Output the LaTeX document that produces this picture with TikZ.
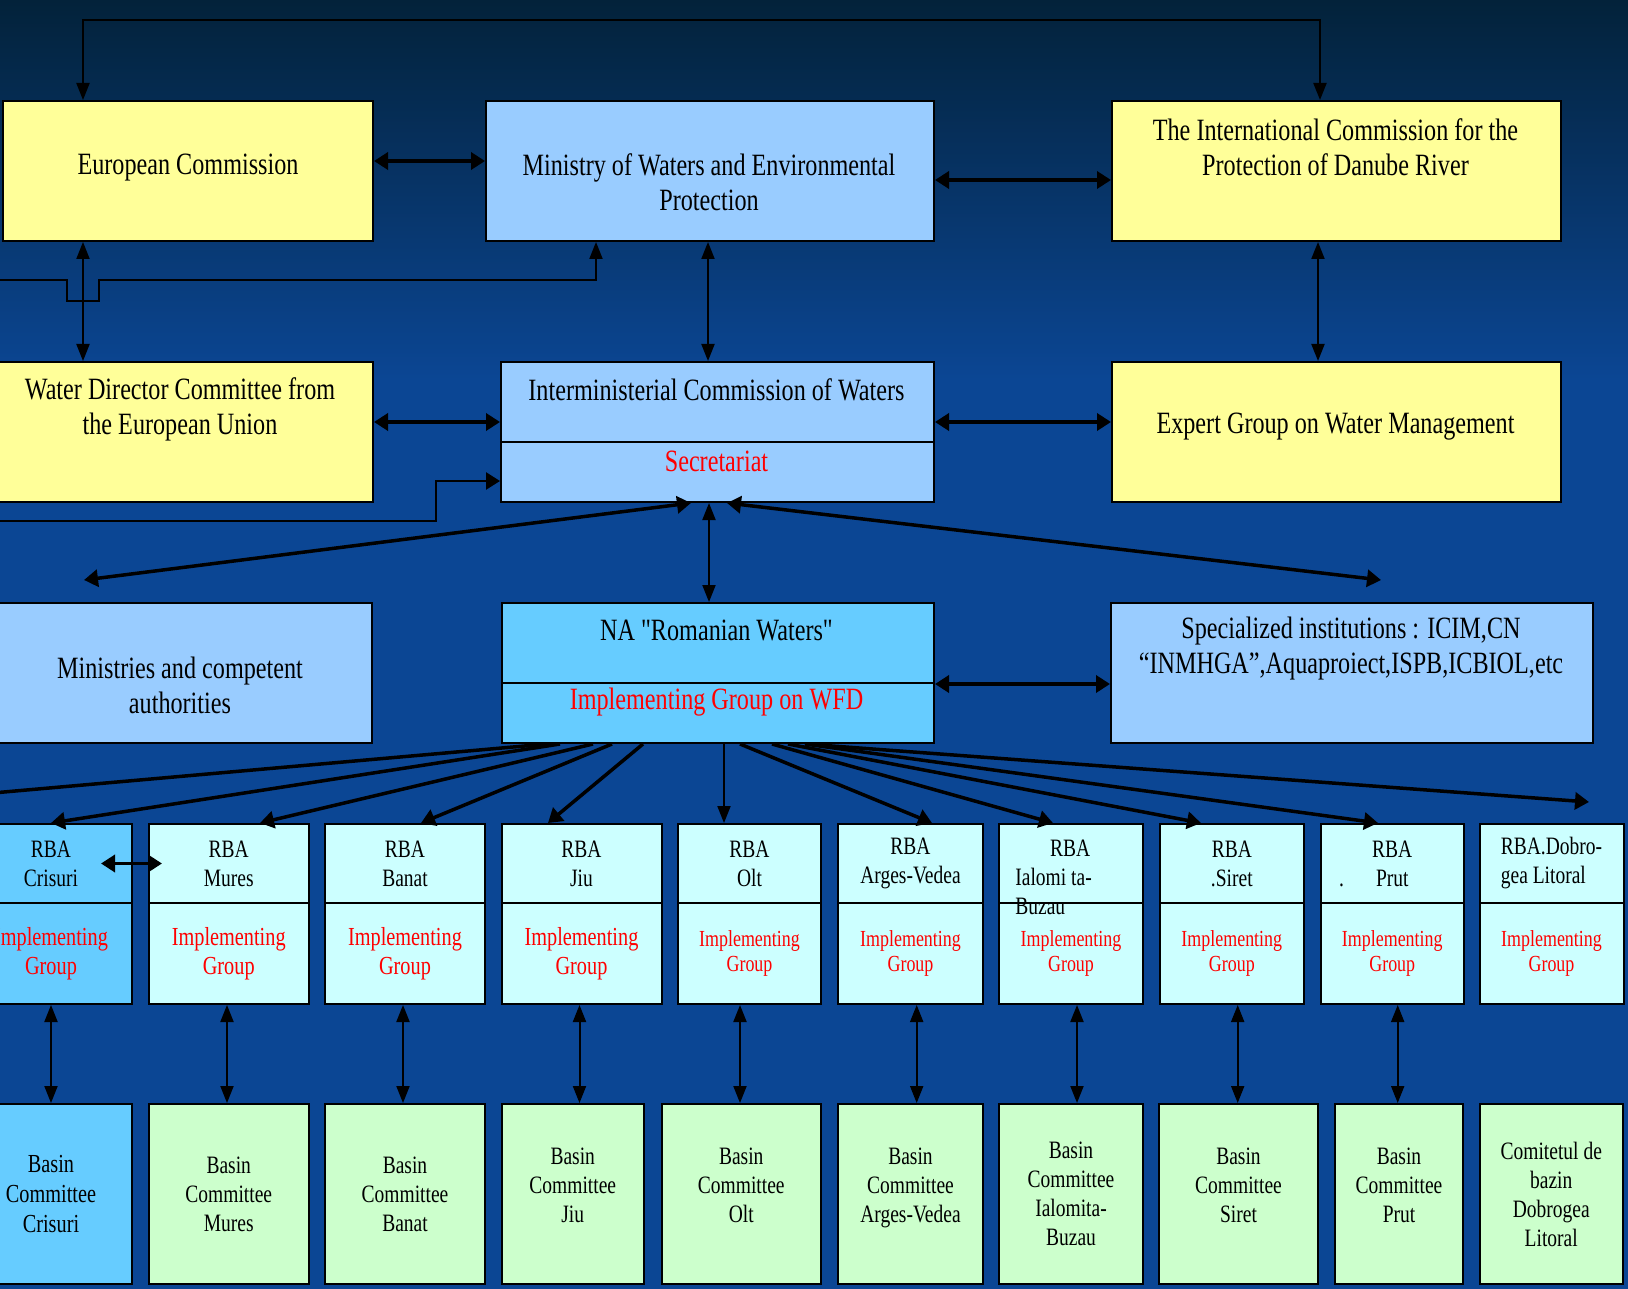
\documentclass[tikz,border=0pt]{standalone}
\usepackage{fontspec}
\setmainfont{Liberation Serif}[FakeStretch=0.78,Ligatures=TeXOff]
\usetikzlibrary{arrows.meta}

\definecolor{bgtop}{RGB}{3,34,58}
\definecolor{bgmid}{RGB}{6,52,104}
\definecolor{bgblue}{RGB}{11,70,148}
\definecolor{ecyellow}{RGB}{255,255,153}
\definecolor{minblue}{RGB}{153,204,255}
\definecolor{nablue}{RGB}{102,204,255}
\definecolor{rbacyan}{RGB}{204,255,255}
\definecolor{bcgreen}{RGB}{204,255,204}

\tikzset{every picture/.style={line width=0.75pt},
  orgbox/.style={draw=black, line width=2pt, anchor=north west, inner sep=0pt, align=center},
  boxtext/.style={align=center, inner sep=0pt, font=\fontsize{31}{35}\selectfont},
  rbabox/.style={orgbox, fill=rbacyan, minimum height=79, font=\fontsize{25}{29}\selectfont},
  igbox/.style={orgbox, fill=rbacyan, minimum height=101, text=red, font=\fontsize{23}{25}\selectfont},
  bcbox/.style={orgbox, fill=bcgreen, minimum height=180, font=\fontsize{25}{29}\selectfont},
  thinarr/.style={line width=2pt, >={Triangle[length=17pt,width=13pt]}},
  thickarr/.style={line width=3.5pt, >={Triangle[length=14pt,width=17pt]}}
}

\begin{document}
\begin{tikzpicture}[x=1pt,y=1pt,yscale=-1,xscale=1]
\useasboundingbox (0,0) rectangle (1628,1289);

%Background
\fill[bgblue] (0,0) rectangle (1628,1289);
\shade[top color=bgtop, middle color=bgmid, bottom color=bgblue] (0,0) rectangle (1628,380);

%Shape: Rectangle [European Commission]
\node[orgbox, fill=ecyellow, minimum width=370, minimum height=140] (ec) at (2,100) {};
\node[boxtext] (ectxt) at (188,168) {European Commission};
%Shape: Rectangle [Ministry]
\node[orgbox, fill=minblue, minimum width=448, minimum height=140] (min) at (485,100) {};
\node[boxtext] (mintxt) at (709,182) {Ministry of Waters and Environmental\\Protection};
%Shape: Rectangle [ICPDR]
\node[orgbox, fill=ecyellow, minimum width=449, minimum height=140] (icpdr) at (1111,100) {};
\node[boxtext] (icpdrtxt) at (1335.5,147) {The International Commission for the\\Protection of Danube River};

%Shape: Rectangle [Water Director Committee]
\node[orgbox, fill=ecyellow, minimum width=384, minimum height=140] (wdc) at (-12,361) {};
\node[boxtext] (wdctxt) at (180,409) {Water Director Committee from\\the European Union};
%Shape: Rectangle [Interministerial Commission]
\node[orgbox, fill=minblue, minimum width=433, minimum height=80] (icw) at (500,361) {};
\node[orgbox, fill=minblue, minimum width=433, minimum height=60] (icwsec) at (500,441) {};
\node[boxtext] (icwtxt) at (716.5,390) {Interministerial Commission of Waters};
\node[boxtext, text=red] (sectxt) at (716.5,461) {Secretariat};
%Shape: Rectangle [Expert Group]
\node[orgbox, fill=ecyellow, minimum width=449, minimum height=140] (exp) at (1111,361) {};
\node[boxtext] (exptxt) at (1335.5,427) {Expert Group on Water Management};

%Shape: Rectangle [Ministries]
\node[orgbox, fill=minblue, minimum width=382, minimum height=140] (mca) at (-11,602) {};
\node[boxtext] (mcatxt) at (180,685) {Ministries and competent\\authorities};
%Shape: Rectangle [NA Romanian Waters]
\node[orgbox, fill=nablue, minimum width=432, minimum height=80] (na) at (501,602) {};
\node[orgbox, fill=nablue, minimum width=432, minimum height=60] (naig) at (501,682) {};
\node[boxtext] (natxt) at (716.5,630) {NA "Romanian Waters"};
\node[boxtext, text=red] (naigtxt) at (716.5,702) {Implementing Group on WFD};
%Shape: Rectangle [Specialized institutions]
\node[orgbox, fill=minblue, minimum width=482, minimum height=140] (spec) at (1110,602) {};
\node[boxtext] (spectxt) at (1351,649) {Specialized institutions : ICIM,CN\\“INMHGA”,Aquaproiect,ISPB,ICBIOL,etc};

%Shape: Rectangle [RBA implementing groups]
\node[igbox, fill=nablue, minimum width=162, font=\fontsize{26}{29}\selectfont] (ig1) at (-31,902) {Implementing\\Group};
\node[igbox, minimum width=159.5, font=\fontsize{26}{29}\selectfont] (ig2) at (148,902) {Implementing\\Group};
\node[igbox, minimum width=160, font=\fontsize{26}{29}\selectfont] (ig3) at (324,902) {Implementing\\Group};
\node[igbox, minimum width=160, font=\fontsize{26}{29}\selectfont] (ig4) at (500.5,902) {Implementing\\Group};
\node[igbox, minimum width=143] (ig5) at (677,902) {Implementing\\Group};
\node[igbox, minimum width=145] (ig6) at (837,902) {Implementing\\Group};
\node[igbox, minimum width=144] (ig7) at (998,902) {Implementing\\Group};
\node[igbox, minimum width=143.6] (ig8) at (1159,902) {Implementing\\Group};
\node[igbox, minimum width=143.5] (ig9) at (1319.5,902) {Implementing\\Group};
\node[igbox, minimum width=144] (ig10) at (1478.5,902) {Implementing\\Group};

%Shape: Rectangle [RBA]
\node[rbabox, fill=nablue, minimum width=162] (rba1) at (-31,823) {RBA\\Crisuri};
\node[rbabox, minimum width=159.5] (rba2) at (148,823) {RBA\\Mures};
\node[rbabox, minimum width=160] (rba3) at (324,823) {RBA\\Banat};
\node[rbabox, minimum width=160] (rba4) at (500.5,823) {RBA\\Jiu};
\node[rbabox, minimum width=143] (rba5) at (677,823) {RBA\\Olt};
\node[rbabox, minimum width=145] (rba6) at (837,823) {RBA\\Arges-Vedea};
\node[rbabox, minimum width=144] (rba7) at (998,823) {};
\node[rbabox, minimum width=143.6] (rba8) at (1159,823) {RBA\\.Siret};
\node[rbabox, minimum width=143.5] (rba9) at (1319.5,823) {RBA\\\llap{.\hspace{32pt}}Prut};
\node[rbabox, minimum width=144, align=left] (rba10) at (1478.5,823) {RBA.Dobro-\\gea Litoral};
\node[anchor=north west, inner sep=0pt, align=left, font=\fontsize{25}{29}\selectfont] (rba7txt) at (1015,840) {\hspace*{34.7pt}RBA\\Ialomi ta-\\Buzau};

%Shape: Rectangle [Basin committees]
\node[bcbox, fill=nablue, minimum width=162, font=\fontsize{26}{30}\selectfont] (bc1) at (-31,1103) {Basin\\Committee\\Crisuri};
\node[bcbox, minimum width=159.5] (bc2) at (148,1103) {Basin\\Committee\\Mures};
\node[bcbox, minimum width=160] (bc3) at (324,1103) {Basin\\Committee\\Banat};
\node[bcbox, minimum width=142.5, text depth=18] (bc4) at (500.5,1103) {Basin\\Committee\\Jiu};
\node[bcbox, minimum width=159.5, text depth=18] (bc5) at (660.5,1103) {Basin\\Committee\\Olt};
\node[bcbox, minimum width=145, text depth=18] (bc6) at (837,1103) {Basin\\Committee\\Arges-Vedea};
\node[bcbox, minimum width=144] (bc7) at (998,1103) {Basin\\Committee\\Ialomita-\\Buzau};
\node[bcbox, minimum width=159, text depth=18] (bc8) at (1158,1103) {Basin\\Committee\\Siret};
\node[bcbox, minimum width=128, text depth=18] (bc9) at (1334,1103) {Basin\\Committee\\Prut};
\node[bcbox, minimum width=143.5] (bc10) at (1478.5,1103) {Comitetul de\\bazin\\Dobrogea\\Litoral};

%Free ends
\coordinate (lin1) at (-5,280);
\coordinate (lin2) at (-5,521);
\coordinate (pl) at (84,580);
\coordinate (pr) at (1381,580);
\coordinate (ple) at (-30,795);
\coordinate (pre) at (1589,802);

%Straight Lines [top level]
\draw[thinarr,<->] (ec.north -| 83,0) -- ++(0,-80) -| (icpdr.north -| 1320,0);
\draw[thickarr,<->] (ec.east |- 0,161) -- (min.west |- 0,161);
\draw[thickarr,<->] (min.east |- 0,180) -- (icpdr.west |- 0,180);
\draw[thinarr,<->] (ec.south -| 83,0) -- (wdc.north -| 83,0);
\draw[thinarr,->] (lin1) -- (67,280) -- (67,301) -- (99,301) -- (99,280) -| (min.south -| 596,0);
\draw[thinarr,<->] (min.south -| 708,0) -- (icw.north -| 708,0);
\draw[thinarr,<->] (icpdr.south -| 1318,0) -- (exp.north -| 1318,0);

%Straight Lines [commission level]
\draw[thickarr,<->] (wdc.east |- 0,422) -- (icw.west |- 0,422);
\draw[thickarr,<->] (icw.east |- 0,422) -- (exp.west |- 0,422);
\draw[thickarr,line width=2.5pt,->] (lin2) -- (436,521) -- (436,481) -- (icwsec.west |- 0,481);
\draw[thickarr,<->] (pl) -- (icwsec.south -| 691,0);
\draw[thinarr,<->] (icwsec.south -| 709,0) -- (na.north -| 709,0);
\draw[thickarr,<->] (pr) -- (icwsec.south -| 727,0);
\draw[thickarr,<->] (na.south east) -- (spec.west |- na.south east);

%Straight Lines [NA to RBA]
\draw[thickarr,->] (naig.south -| 547,0) -- (ple);
\draw[thickarr,->] (naig.south -| 560,0) -- (rba1.north -| 51,0);
\draw[thickarr,->] (naig.south -| 593,0) -- (rba2.north -| 260,0);
\draw[thickarr,->] (naig.south -| 612,0) -- (rba3.north -| 421,0);
\draw[thickarr,->] (naig.south -| 643,0) -- (rba4.north -| 548,0);
\draw[thinarr,->] (naig.south -| 724,0) -- (rba5.north -| 724,0);
\draw[thickarr,->] (naig.south -| 740,0) -- (rba6.north -| 932,0);
\draw[thickarr,->] (naig.south -| 772,0) -- (rba7.north -| 1053,0);
\draw[thickarr,->] (naig.south -| 788,0) -- (rba8.north -| 1201,0);
\draw[thickarr,->] (naig.south -| 805,0) -- (rba9.north -| 1378,0);
\draw[thickarr,->] (naig.south -| 805,0) -- (pre);
\draw[thickarr,<->] ([xshift=-32pt]rba1.east) -- ([xshift=14pt]rba2.west);

%Straight Lines [RBA to basin committees]
\draw[thinarr,<->] (ig1.south -| 51,0) -- (bc1.north -| 51,0);
\draw[thinarr,<->] (ig2.south -| 227,0) -- (bc2.north -| 227,0);
\draw[thinarr,<->] (ig3.south -| 403,0) -- (bc3.north -| 403,0);
\draw[thinarr,<->] (ig4.south -| 579.5,0) -- (bc4.north -| 579.5,0);
\draw[thinarr,<->] (ig5.south -| 740,0) -- (bc5.north -| 740,0);
\draw[thinarr,<->] (ig6.south -| 916.7,0) -- (bc6.north -| 916.7,0);
\draw[thinarr,<->] (ig7.south -| 1077,0) -- (bc7.north -| 1077,0);
\draw[thinarr,<->] (ig8.south -| 1237.7,0) -- (bc8.north -| 1237.7,0);
\draw[thinarr,<->] (ig9.south -| 1397.7,0) -- (bc9.north -| 1397.7,0);
\end{tikzpicture}
\end{document}
